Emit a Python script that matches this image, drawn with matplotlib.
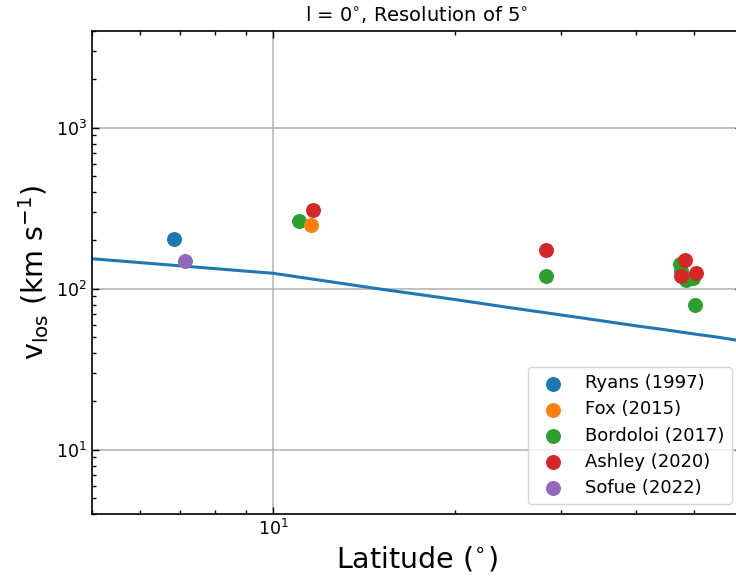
import matplotlib
matplotlib.use("Agg")
import matplotlib.pyplot as plt

# Observed high-latitude cloud velocities
ryans_lat = [6.84]
ryans_v = [205]
fox_lat = [11.53]
fox_v = [250]
bordoloi_lat = [11.03, 28.4, 47.4, 47.5, 48.4, 49.7, 50.1]
bordoloi_v = [264, 120, 142, 130, 114, 117, 80]
ashley_lat = [11.62, 28.4, 48.2, 47.6, 50.3]
ashley_v = [308, 175, 151, 120, 125]
sofue_lat = [7.13]
sofue_v = [150]

# Model line of sight velocity sampled every 5 degrees
model_lat = [5, 10, 15, 20, 25, 30, 35, 40, 45, 50, 55, 60]
model_v = [154, 125, 100, 86, 76, 69, 63.5, 59, 55.6, 52.5, 50, 47.5]

fig = plt.figure(figsize=(7.36, 5.76), dpi=100)
ax = fig.add_axes([92 / 736, 1 - 514 / 576, (742 - 92) / 736, (514 - 31) / 576])

ax.plot(model_lat, model_v, color="#1f77b4", lw=2.2, zorder=2)

s = 95
ax.scatter(ryans_lat, ryans_v, s=s, color="C0", label="Ryans (1997)", zorder=3)
ax.scatter(fox_lat, fox_v, s=s, color="C1", label="Fox (2015)", zorder=4)
ax.scatter(bordoloi_lat, bordoloi_v, s=s, color="C2", label="Bordoloi (2017)", zorder=3)
ax.scatter(ashley_lat, ashley_v, s=s, color="C3", label="Ashley (2020)", zorder=4)
ax.scatter(sofue_lat, sofue_v, s=s, color="C4", label="Sofue (2022)", zorder=4)

ax.set_xscale("log")
ax.set_yscale("log")
ax.set_xlim(5, 60)
ax.set_ylim(4, 4000)

ax.grid(True, which="major", color="#b0b0b0", lw=1.1)
ax.set_axisbelow(True)
ax.tick_params(which="both", direction="in", top=True, right=True, labelsize=12.5)
ax.tick_params(which="major", length=5, width=1)
ax.tick_params(which="minor", length=3, width=1)
for sp in ax.spines.values():
    sp.set_linewidth(1.2)

ax.set_xlabel(r"Latitude ($^{\circ}$)", fontsize=20.5)
ax.set_ylabel(r"v$_{\rm los}$ (km s$^{-1}$)", fontsize=20.5)
ax.set_title(r"l = 0$^{\circ}$, Resolution of 5$^{\circ}$", fontsize=14, pad=7)

ax.legend(loc="lower right", fontsize=13, labelspacing=0.45, borderaxespad=0.55)

fig.savefig("out.png", dpi=100)
